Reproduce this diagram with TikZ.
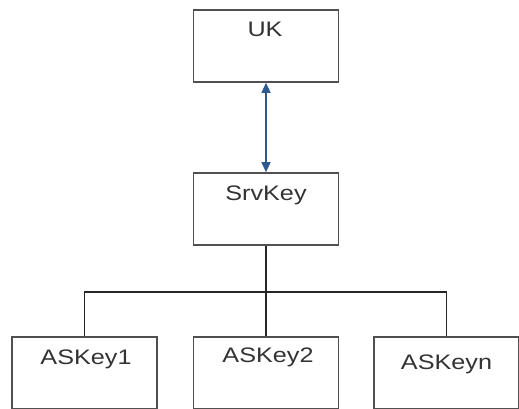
\documentclass[tikz,border=0pt]{standalone}
\usepackage{fontspec}
\setmainfont{Liberation Sans}
\usetikzlibrary{arrows.meta}
\definecolor{boxline}{HTML}{505050}
\definecolor{labeltext}{HTML}{333333}
\definecolor{linkblue}{HTML}{2E5A8E}
\newcommand{\boxlabel}[1]{\scalebox{1.2}[1]{#1}}
\tikzset{
  keybox/.style={draw=boxline, line width=1.6pt, minimum width=145pt, minimum height=72pt,
                 inner sep=0pt, fill=white},
  keylabel/.style={anchor=base, text=labeltext, inner sep=0pt,
                   font=\fontsize{21}{24}\selectfont},
  tree/.style={draw=black!85, line width=1.3pt},
  link/.style={draw=linkblue, line width=1.4pt,
               {Triangle[width=9pt,length=10pt]}-{Triangle[width=9pt,length=10pt]}}
}
\begin{document}
\begin{tikzpicture}[x=1pt,y=1pt]
  \useasboundingbox (0,0) rectangle (519,408);
  \clip (0,0) rectangle (519,408);
  \fill[white] (0,0) rectangle (519,408);

  % key boxes
  \node[keybox] (uk)  at (266,362) {};
  \node[keybox] (srv) at (266,199) {};
  \node[keybox] (as1) at (84.5,35) {};
  \node[keybox] (as2) at (266,35) {};
  \node[keybox] (asn) at (446.5,35) {};

  % labels near the top of each box
  \node[keylabel] (ukt)  at ([xshift=-1pt,yshift=-27pt]uk.north)  {\boxlabel{UK}};
  \node[keylabel] (srvt) at ([yshift=-28pt]srv.north) {\boxlabel{SrvKey}};
  \node[keylabel] (as1t) at ([xshift=1.5pt,yshift=-28pt]as1.north) {\boxlabel{ASKey1}};
  \node[keylabel] (as2t) at ([xshift=2pt,yshift=-26pt]as2.north) {\boxlabel{ASKey2}};
  \node[keylabel] (asnt) at ([yshift=-33pt]asn.north) {\boxlabel{ASKeyn}};

  % two-way link between UK and SrvKey
  \draw[link] (uk.south) -- (srv.north);

  % tree from SrvKey to the AS keys
  \coordinate (bus) at (266,116);
  \draw[tree] (srv.south) -- (bus);
  \draw[tree] (as1.north) |- (bus) -| (asn.north);
  \draw[tree] (bus) -- (as2.north);
\end{tikzpicture}
\end{document}
